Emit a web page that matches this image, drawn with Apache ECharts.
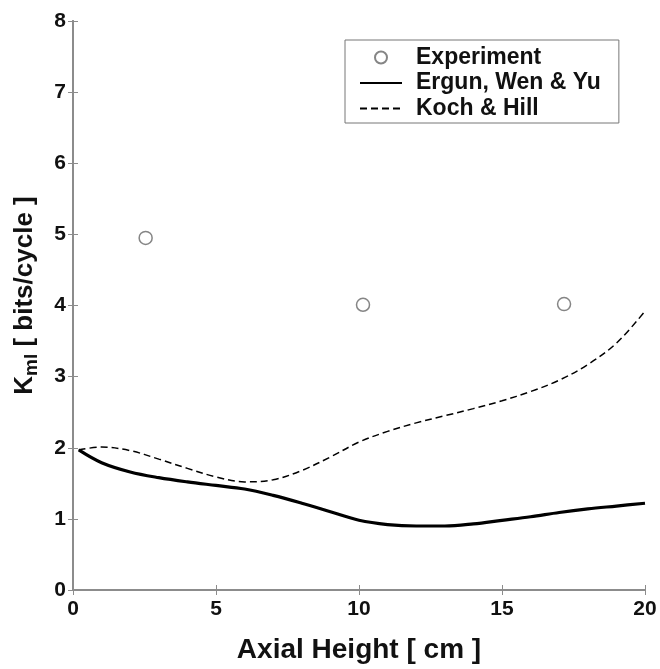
<!DOCTYPE html>
<html><head><meta charset="utf-8">
<script src="https://cdn.jsdelivr.net/npm/echarts@6/dist/echarts.min.js"></script>
<style>html,body{margin:0;padding:0;background:#fff}#c{width:660px;height:669px}</style>
</head><body><div id="c"></div>
<script>
var expX = [2.54, 10.14, 17.17];
var expY = [4.95, 4.01, 4.02];
var ergunX = [0.2, 1, 2, 3, 4, 5, 6, 7, 8, 9, 10, 11, 12, 13, 14, 15, 16, 17, 18, 19, 20];
var ergunY = [1.97, 1.79, 1.66, 1.58, 1.52, 1.47, 1.42, 1.33, 1.22, 1.10, 0.98, 0.92, 0.90, 0.90, 0.93, 0.98, 1.03, 1.09, 1.14, 1.18, 1.22];
var kochX = [0.2, 1, 2, 3, 4, 5, 6, 7, 8, 9, 10, 11, 12, 13, 14, 15, 16, 17, 18, 19, 20];
var kochY = [1.97, 2.01, 1.96, 1.84, 1.71, 1.59, 1.52, 1.55, 1.68, 1.87, 2.08, 2.23, 2.35, 2.45, 2.55, 2.66, 2.79, 2.95, 3.17, 3.47, 3.92];
var xTicks = [0, 5, 10, 15, 20];
var yTicks = [0, 1, 2, 3, 4, 5, 6, 7, 8];
var seriesNames = ['Experiment', 'Ergun, Wen & Yu', 'Koch & Hill'];
var xTitle = 'Axial Height [ cm ]';

function pairs(xs, ys) { return xs.map(function (x, i) { return [x, ys[i]]; }); }

var FONT = '"Liberation Sans", Arial, sans-serif';
var AX = '#8c8c8c';
var chart = echarts.init(document.getElementById('c'));
var baseX = { type: 'value', min: xTicks[0], max: xTicks[xTicks.length - 1], interval: 5, splitLine: { show: false },
  axisLine: { lineStyle: { color: AX, width: 2 } }, axisTick: { inside: true, length: 5, lineStyle: { color: AX } } };
var baseY = { type: 'value', min: yTicks[0], max: yTicks[yTicks.length - 1], interval: 1, splitLine: { show: false },
  axisLine: { lineStyle: { color: AX, width: 2 } }, axisTick: { inside: true, length: 5, lineStyle: { color: AX } } };
chart.setOption({
  backgroundColor: '#fff',
  animation: false,
  grid: { left: 73, right: 15, top: 21, bottom: 76 },
  legend: {
    orient: 'vertical', left: 345, top: 40,
    data: [
      { name: seriesNames[0] },
      { name: seriesNames[1], itemStyle: { opacity: 0 } },
      { name: seriesNames[2], itemStyle: { opacity: 0 } }
    ],
    borderColor: '#777', borderWidth: 1,
    padding: [6, 18, 3, 14],
    itemWidth: 42, itemHeight: 12, itemGap: 2.5,
    textStyle: { fontFamily: FONT, fontWeight: 'bold', fontSize: 23, color: '#111', lineHeight: 23, padding: [0, 0, 0, 9] }
  },
  xAxis: [
    Object.assign({}, baseX, { position: 'bottom',
      name: xTitle, nameLocation: 'middle', nameGap: 46,
      nameTextStyle: { fontFamily: FONT, fontWeight: 'bold', fontSize: 28, color: '#111' },
      axisLabel: { margin: 9, fontFamily: FONT, fontWeight: 'bold', fontSize: 21, color: '#111' } }),
    Object.assign({}, baseX, { position: 'top', axisLabel: { show: false } })
  ],
  yAxis: [
    Object.assign({}, baseY, { position: 'left',
      name: '{b|K}{s|ml}{b| [ bits/cycle ]}', nameLocation: 'middle', nameGap: 32,
      nameTextStyle: { fontFamily: FONT, fontWeight: 'bold', fontSize: 26, color: '#111', padding: [0, 0, 0, 20],
        rich: { b: { fontFamily: FONT, fontWeight: 'bold', fontSize: 26, color: '#111' },
                s: { fontFamily: FONT, fontWeight: 'bold', fontSize: 19, color: '#111', padding: [14, 0, 0, 0] } } },
      axisLabel: { margin: 7, fontFamily: FONT, fontWeight: 'bold', fontSize: 21, color: '#111' } }),
    Object.assign({}, baseY, { position: 'right', axisLabel: { show: false } })
  ],
  series: [
    { name: seriesNames[0], type: 'scatter', data: pairs(expX, expY), symbol: 'circle', symbolSize: 13,
      itemStyle: { color: '#fff', borderColor: '#666', borderWidth: 1.5 } },
    { name: seriesNames[1], type: 'line', data: pairs(ergunX, ergunY), smooth: 0.35, symbol: 'none',
      lineStyle: { color: '#000', width: 3.2 }, itemStyle: { color: '#000' } },
    { name: seriesNames[2], type: 'line', data: pairs(kochX, kochY), smooth: 0.35, symbol: 'none',
      lineStyle: { color: '#000', width: 1.5, type: [7, 4] }, itemStyle: { color: '#000' } }
  ]
});
</script></body></html>
